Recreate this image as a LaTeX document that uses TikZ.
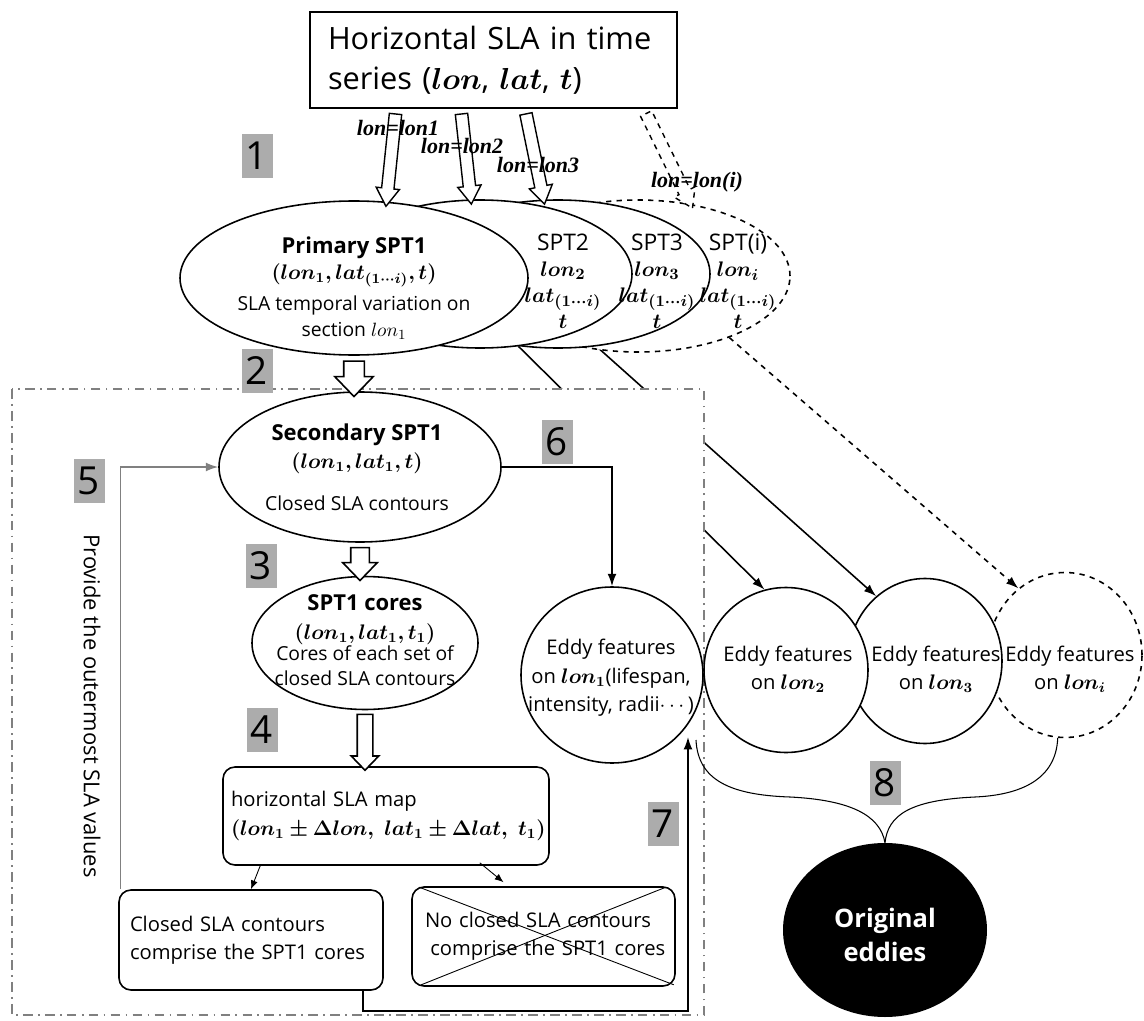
\documentclass[tikz,border=0pt]{standalone}
\usepackage{amsmath,amssymb,bm}
\usepackage{fontspec}
\setmainfont{Open Sans}
\newfontfamily\tnr{Liberation Serif}
\usetikzlibrary{calc,positioning,arrows.meta,shapes.geometric,shapes.arrows}

\pgfdeclarelayer{bottom}
\pgfdeclarelayer{back}
\pgfsetlayers{bottom,back,main}

\newcommand\px{0.02cm}
% hollow block arrow from #2 to #3
\newcommand\hollowarrow[3][]{%
  \path let \p1=($(#3)-(#2)$), \n1={veclen(\x1,\y1)} in
    (#2) -- (#3) node[midway, sloped, allow upside down, #1, minimum height=\n1] {};}

\begin{document}
\begin{tikzpicture}[x=\px, y=-\px, >={Latex[length=7pt,width=5pt]},
    every node/.style={font=\fontsize{11}{15}\selectfont},
    txt/.style={align=center, inner sep=0pt},
    tag/.style={fill=gray!65, minimum width=31*\px, minimum height=44*\px, inner sep=0pt, font=\fontsize{22}{22}\selectfont},
    spt/.style={ellipse, draw, fill=white, line width=0.9pt, inner sep=0pt},
    stage/.style={draw, line width=0.9pt, rounded corners=12*\px, align=left, font=\fontsize{11.5}{16}\selectfont},
    thinfat/.style={single arrow, draw, fill=white, line width=0.8pt, inner xsep=0pt, inner ysep=5.5*\px, minimum width=22*\px, single arrow head extend=5.5*\px, single arrow tip angle=66},
    widefat/.style={thinfat, line width=0.9pt, inner ysep=9.5*\px, minimum width=37*\px, single arrow head extend=9*\px, single arrow tip angle=88},
    lonlab/.style={inner sep=0pt, font=\tnr\bfseries\itshape\fontsize{12.5}{12.5}\selectfont},
    link/.style={line width=0.9pt, ->},
    frame/.style={draw=gray, line width=0.8pt, dash pattern=on 5.5pt off 3pt on 1pt off 3pt}]
  \useasboundingbox (0,0) rectangle (1144,1021);

  % source data
  \node[draw, line width=1.4pt, align=left, text width=331*\px, inner xsep=18*\px, minimum height=96*\px,
    font=\fontsize{17.5}{22.8}\selectfont] (src) at (493.5,60)
    {Horizontal SLA in time\\series ($\bm{lon}$, $\bm{lat}$, $\bm{t}$)};

  % primary SPTs, back to front
  \node[spt, dashed, minimum width=304*\px, minimum height=152*\px] (spti) at (638,276) {};
  \node[spt, minimum width=304*\px, minimum height=148*\px] (spt3) at (558,274) {};
  \node[spt, minimum width=304*\px, minimum height=148*\px] (spt2) at (480,274) {};
  \node[spt, minimum width=348*\px, minimum height=154*\px] (prim) at (354,278) {};

  \node[txt] (primtxt) at (354,288) {{\fontsize{12.5}{15}\selectfont\bfseries Primary SPT1}\\
    {\fontsize{12}{15}\selectfont$\bm{(lon_1, lat_{(1\cdots i)}, t)}$}\\[2.2pt]
    SLA temporal variation on\\ section $lon_1$};
  \node[txt, font=\fontsize{13}{14.8}\selectfont] (spt2txt) at (563,281)
    {SPT2\\ $\bm{lon_2}$\\ $\bm{lat_{(1\cdots i)}}$\\ $\bm{t}$};
  \node[txt, font=\fontsize{13}{14.8}\selectfont] (spt3txt) at (657,281)
    {SPT3\\ $\bm{lon_3}$\\ $\bm{lat_{(1\cdots i)}}$\\ $\bm{t}$};
  \node[txt, font=\fontsize{13}{14.8}\selectfont] (sptitxt) at (738,281)
    {SPT(i)\\ $\bm{lon_i}$\\ $\bm{lat_{(1\cdots i)}}$\\ $\bm{t}$};

  % sections along longitude
  \coordinate (s1) at ($(src.south)+(-97.5,0)$);
  \coordinate (s2) at ($(src.south)+(-32.5,0)$);
  \coordinate (s3) at ($(src.south)+(31.5,0)$);
  \coordinate (si) at ($(src.south)+(150.5,0)$);
  \hollowarrow[thinfat, name=a1]{s1}{prim.67}
  \hollowarrow[thinfat, name=a2]{s2}{spt2.97}
  \hollowarrow[thinfat, name=a3]{s3}{spt3.101}
  \hollowarrow[thinfat, dashed, name=ai]{si}{spti.54}
  \node[lonlab] (l1) at (398,128) {lon=lon1};
  \node[lonlab] (l2) at (462,146) {lon=lon2};
  \node[lonlab] (l3) at (538,165) {lon=lon3};
  \node[lonlab] (li) at (697,182) {lon=lon(i)};

  % eddy features, back to front
  \node[spt, dashed, minimum width=154*\px, minimum height=165*\px] (ei) at (1065,655) {};
  \node[spt, minimum width=154*\px, minimum height=165*\px] (e3) at (925,661) {};
  \node[spt, minimum width=164*\px, minimum height=165*\px] (e2) at (786,670) {};
  \node[spt, minimum width=182*\px, minimum height=176*\px] (e1) at (612,675) {};
  \node[txt, font=\fontsize{11.5}{16.2}\selectfont] (e1txt) at (611,678)
    {Eddy features\\ on $\bm{lon_1}$(lifespan,\\ intensity, radii$\cdots$)};
  \node[txt, font=\fontsize{11.5}{16}\selectfont] (e2txt) at (788,669) {Eddy features\\ on $\bm{lon_2}$};
  \node[txt, font=\fontsize{11.5}{16}\selectfont] (e3txt) at (936,669) {Eddy features\\ on $\bm{lon_3}$};
  \node[txt, font=\fontsize{11.5}{16}\selectfont] (eitxt) at (1070,669) {Eddy features\\ on $\bm{lon_i}$};

  % the other sections pass behind the frame
  \begin{pgfonlayer}{bottom}
    \draw[link] (spt2.-62) -- (e2.105);
    \draw[link] (spt3.-62) -- (e3.127);
  \end{pgfonlayer}
  \draw[link, dashed] (spti.-34) -- (ei.125);
  \begin{pgfonlayer}{back}
    \filldraw[frame, fill=white] (12,389) rectangle (704,1015);
  \end{pgfonlayer}

  % section lon1
  \node[spt, minimum width=282*\px, minimum height=150*\px] (sec) at (360,467) {};
  \node[txt, font=\fontsize{11}{16}\selectfont] (sectxt) at (357,467)
    {{\fontsize{12.5}{15}\selectfont\bfseries Secondary SPT1}\\
    {\fontsize{12}{15}\selectfont$\bm{(lon_1, lat_1, t)}$}\\[8pt] Closed SLA contours};
  \node[spt, minimum width=226*\px, minimum height=133*\px] (cores) at (365,643) {};
  \node[txt, font=\fontsize{11}{14}\selectfont] (corestxt) at (365,640)
    {{\fontsize{12.5}{15}\selectfont\bfseries SPT1 cores}\\[2.5pt]
    {\fontsize{12}{15}\selectfont$\bm{(lon_1, lat_1, t_1)}$}\\[-2pt]
    Cores of each set of\\ closed SLA contours};
  \node[stage, minimum width=326*\px, minimum height=98*\px, text width=310*\px, inner xsep=8*\px] (map) at (386,816)
    {horizontal SLA map\\ \mbox{$\bm{(lon_1 \pm \Delta lon,\ lat_1 \pm \Delta lat,\ t_1)}$}};
  \node[stage, minimum width=264*\px, minimum height=100*\px, text width=242*\px, inner xsep=11*\px] (closed) at (251,940)
    {\mbox{Closed SLA contours}\\ \mbox{comprise the SPT1 cores}};
  \node[stage, minimum width=263*\px, minimum height=99*\px, text width=237*\px, inner xsep=13*\px] (noclosed) at (543.5,936.5)
    {\mbox{No closed SLA contours}\\ \mbox{\hspace*{3pt}comprise the SPT1 cores}};
  \draw[line width=0.5pt] ($(noclosed.north west)+(8,1)$) -- ($(noclosed.south east)+(-2,-2)$);
  \draw[line width=0.5pt] ($(noclosed.south west)+(10,-2)$) -- ($(noclosed.north east)+(-10,1)$);

  \hollowarrow[widefat, name=a4]{prim.south}{prim.south |- sec.north}
  \hollowarrow[widefat, inner ysep=8.5*\px, minimum width=33*\px, single arrow head extend=8*\px, name=a5]{sec.south}{sec.south |- cores.north}
  \hollowarrow[widefat, inner ysep=7*\px, minimum width=26*\px, single arrow head extend=6*\px, name=a6]{cores.south}{cores.south |- map.north}
  \draw[->, line width=0.5pt, >={Latex[length=5pt,width=4pt]}] ($(map.south west)+(38,0)$) -- (closed.north);
  \draw[->, line width=0.5pt, >={Latex[length=5pt,width=4pt]}] ($(map.south east)+(-70,-3)$) -- ($(noclosed.north)+(-40,-4)$);

  % feedback and results
  \draw[->, gray, line width=0.8pt] ($(closed.north west)+(2,0)$) |- (sec.west);
  \node[rotate=-90, font=\fontsize{12.5}{12.5}\selectfont] (outer) at (92,706) {Provide the outermost SLA values};
  \draw[link] (sec.east) -| (e1.north);
  \coordinate (in7) at (688,737);
  \draw[link] ($(closed.south east)+(-21,0)$) -- ++(0,20) -| (in7);

  % merge into original eddies
  \node[ellipse, fill=black, minimum width=204*\px, minimum height=174*\px] (orig) at (885,930) {};
  \node[txt, text=white, font=\fontsize{14.5}{19.4}\selectfont\bfseries] (origtxt) at (885,935) {Original\\ eddies};
  \coordinate (b1) at (696,740);
  \draw[line width=0.6pt] (b1) .. controls (698,780) and (730,795) .. (790,797)
    .. controls (850,800) and (880,815) .. (orig.north);
  \draw[line width=0.6pt] (ei.-95) .. controls (1056,780) and (1020,795) .. (975,797)
    .. controls (910,800) and (888,815) .. (orig.north);

  % step numbers
  \node[tag] (t1) at (257,156) {1};
  \node[tag] (t2) at (257,371) {2};
  \node[tag] (t3) at (261,566) {3};
  \node[tag] (t4) at (262,730) {4};
  \node[tag] (t5) at (89,481) {5};
  \node[tag] (t6) at (557,442) {6};
  \node[tag] (t7) at (663,824) {7};
  \node[tag] (t8) at (885,783) {8};
\end{tikzpicture}
\end{document}
